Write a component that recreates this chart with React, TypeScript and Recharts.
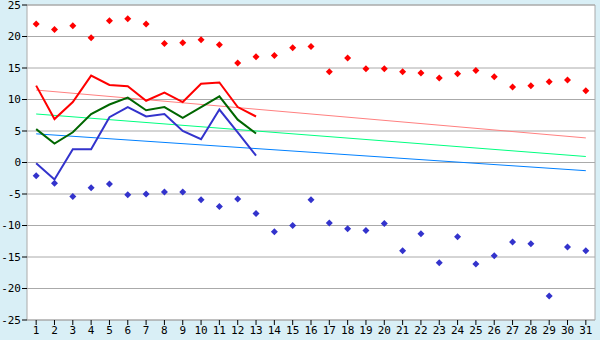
import { ComposedChart, Line, XAxis, YAxis, CartesianGrid, ReferenceLine } from 'recharts'

const days = [1, 2, 3, 4, 5, 6, 7, 8, 9, 10, 11, 12, 13, 14, 15, 16, 17, 18, 19, 20, 21, 22, 23, 24, 25, 26, 27, 28, 29, 30, 31]
const yTicks = [-25, -20, -15, -10, -5, 0, 5, 10, 15, 20, 25]

const highs = [22.0, 21.1, 21.7, 19.8, 22.5, 22.8, 22.0, 18.9, 19.0, 19.5, 18.7, 15.8, 16.8, 17.0, 18.2, 18.4, 14.4, 16.6, 14.9, 14.9, 14.4, 14.2, 13.4, 14.1, 14.6, 13.6, 12.0, 12.2, 12.8, 13.1, 11.4]
const lows = [-2.1, -3.3, -5.4, -4.0, -3.4, -5.1, -5.0, -4.7, -4.7, -5.9, -7.0, -5.8, -8.1, -11.0, -10.0, -5.9, -9.6, -10.5, -10.8, -9.7, -14.0, -11.3, -15.9, -11.8, -16.1, -14.8, -12.6, -12.9, -21.2, -13.4, -14.0]

const redSeries = [12.2, 6.9, 9.6, 13.8, 12.3, 12.1, 9.8, 11.1, 9.6, 12.5, 12.7, 8.8, 7.3]
const greenSeries = [5.3, 3.0, 4.8, 7.7, 9.2, 10.3, 8.3, 8.8, 7.1, 8.8, 10.5, 6.8, 4.6]
const blueSeries = [-0.1, -2.7, 2.1, 2.1, 7.2, 8.8, 7.3, 7.7, 5.0, 3.7, 8.4, 4.8, 1.1]

// trend lines: value at day 1 and at day 31
const redTrend = [11.5, 3.9]
const greenTrend = [7.7, 0.95]
const blueTrend = [4.55, -1.3]

const data = days.map((day, i) => ({
  day,
  high: highs[i],
  low: lows[i],
  red: redSeries[i],
  green: greenSeries[i],
  blue: blueSeries[i],
  redTrend: i === 0 ? redTrend[0] : i === days.length - 1 ? redTrend[1] : null,
  greenTrend: i === 0 ? greenTrend[0] : i === days.length - 1 ? greenTrend[1] : null,
  blueTrend: i === 0 ? blueTrend[0] : i === days.length - 1 ? blueTrend[1] : null,
}))

const makeDiamond = (color: string) => (props: any) => {
  const { cx, cy, key } = props
  if (cx == null || cy == null) return <g key={key} />
  const r = 3.5
  return (
    <polygon
      key={key}
      points={`${cx},${cy - r} ${cx + r},${cy} ${cx},${cy + r} ${cx - r},${cy}`}
      fill={color}
      stroke="none"
    />
  )
}

const tickStyle = { fontFamily: '"DejaVu Sans Mono", monospace', fontSize: 11, fill: '#000' }

export default function App() {
  return (
    <div style={{ position: 'absolute', left: 0, top: 0, width: 600, height: 340, background: '#d9eff6' }}>
      <ComposedChart width={600} height={340} data={data} margin={{ top: 5, right: 5, left: 0, bottom: 0 }}>
        <CartesianGrid vertical={false} stroke="#aaaaaa" fill="#ffffff" />
        <XAxis
          dataKey="day"
          type="number"
          domain={[0.5, 31.5]}
          ticks={days}
          interval={0}
          height={20}
          tickSize={5}
          tickMargin={1}
          axisLine={{ stroke: '#aaaaaa' }}
          tickLine={{ stroke: '#000' }}
          tick={tickStyle}
        />
        <YAxis
          type="number"
          domain={[-25, 25]}
          ticks={yTicks}
          interval={0}
          width={27}
          tickSize={5}
          tickMargin={1}
          axisLine={{ stroke: '#aaaaaa' }}
          tickLine={{ stroke: '#000' }}
          tick={tickStyle}
        />
        <ReferenceLine x={31.5} stroke="#aaaaaa" />
        <ReferenceLine y={25} stroke="#aaaaaa" />
        <Line dataKey="redTrend" stroke="#ff8080" strokeWidth={1} dot={false} connectNulls isAnimationActive={false} />
        <Line dataKey="greenTrend" stroke="#00ff80" strokeWidth={1} dot={false} connectNulls isAnimationActive={false} />
        <Line dataKey="blueTrend" stroke="#0080ff" strokeWidth={1} dot={false} connectNulls isAnimationActive={false} />
        <Line dataKey="red" type="linear" stroke="#ff0000" strokeWidth={2} dot={false} isAnimationActive={false} />
        <Line dataKey="green" type="linear" stroke="#006600" strokeWidth={2} dot={false} isAnimationActive={false} />
        <Line dataKey="blue" type="linear" stroke="#3333cc" strokeWidth={2} dot={false} isAnimationActive={false} />
        <Line dataKey="high" stroke="none" dot={makeDiamond('#ff0000')} activeDot={false} isAnimationActive={false} />
        <Line dataKey="low" stroke="none" dot={makeDiamond('#3333cc')} activeDot={false} isAnimationActive={false} />
      </ComposedChart>
    </div>
  )
}
